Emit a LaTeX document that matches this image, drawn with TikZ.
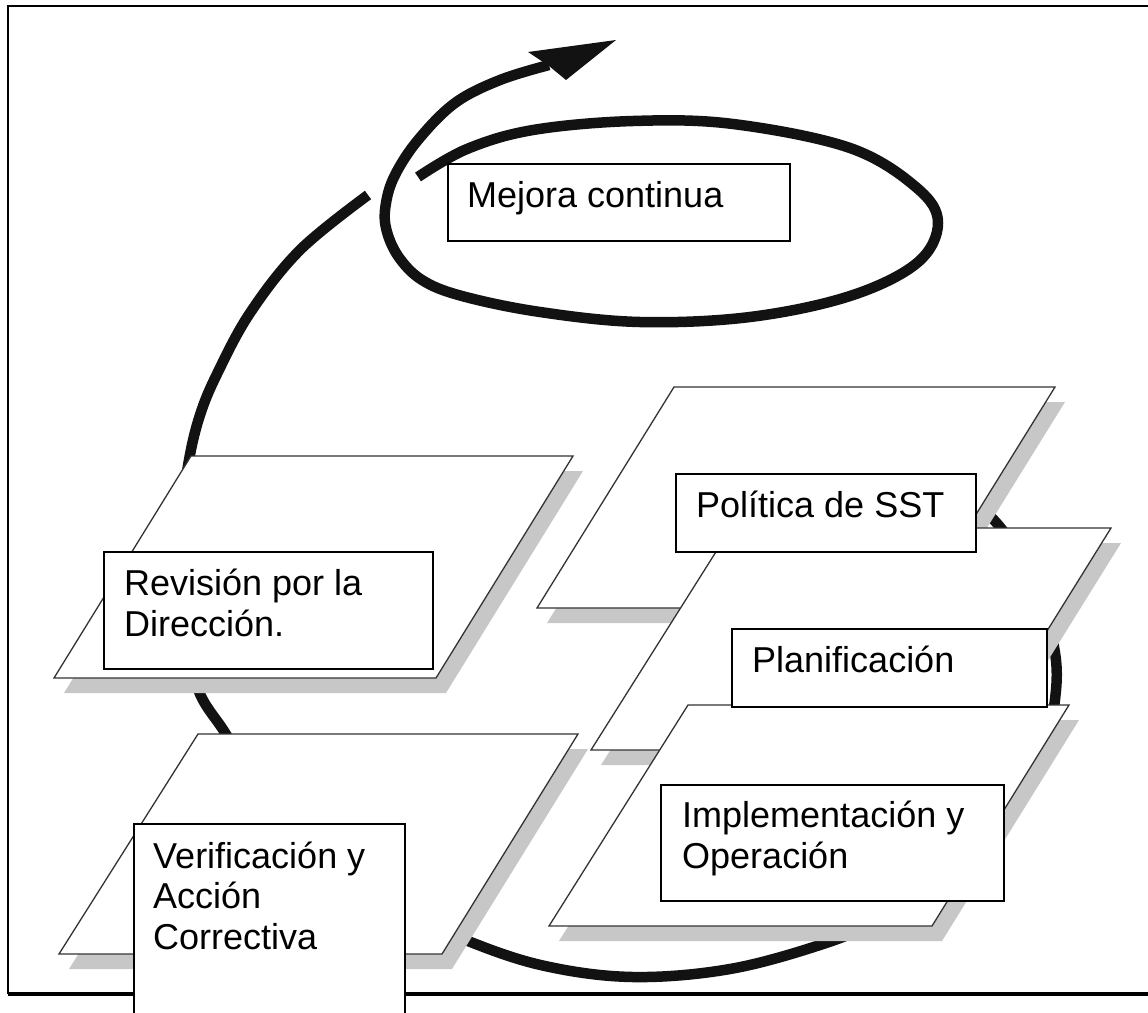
\documentclass[tikz,border=0pt]{standalone}
\usepackage{fontspec}
\setmainfont{Liberation Sans}
\begin{document}
\begin{tikzpicture}[x=1pt,y=-1pt,
  para/.style={fill=white, draw=black!80, line width=1.3pt, line join=miter},
  shade/.style={fill=black!22, draw=none},
  box/.style={draw=black, line width=1.7pt, fill=white, inner sep=0pt, anchor=north west},
  lbl/.style={anchor=base west, align=left, inner sep=0pt, font=\fontsize{36}{40.5}\selectfont},
  loopline/.style={line width=10.5pt, draw=black!93}
]
\useasboundingbox (0,0) rectangle (1148,1012);
% frame
\draw[line width=2.2pt] (1152,6) -- (8,6) -- (8,994);
\draw[line width=3.5pt] (8,994) -- (1152,994);

% big loop
\draw[loopline] plot[smooth, tension=0.6] coordinates {(905,447) (958,488) (1000,527) (1033,580) (1052,637) (1056,690) (1040,765) (1000,830) (940,885) (880,920) (823,944) (730,969) (633,977) (545,966) (468,941) (390,905) (310,850) (255,790) (227,736) (200,694) (185,640) (179,580) (181,520) (189,460) (200,415) (217,374) (250,313) (300,250) (368,195)};

% small loop and arrow
\draw[loopline] plot[smooth, tension=0.6] coordinates {(418,177) (467,149) (533,130) (633,121) (733,124) (850,148) (917,188) (938,223) (917,263) (850,296) (750,317) (640,322) (540,312) (462,296) (422,280) (398,256) (386,228) (386,203) (395,175) (418,140) (455,103) (500,80) (549,65)};
\fill[black!93] (616,40) -- (528,52) -- (549,66) -- (566,80) -- cycle;

% Revision
\fill[shade] ([shift={(10,15)}]191,456) -- ([shift={(10,15)}]573,456) -- ([shift={(10,15)}]436,678) -- ([shift={(10,15)}]54,678) -- cycle;
\filldraw[para] (191,456) -- (573,456) -- (436,678) -- (54,678) -- cycle;
\node[box, minimum width=329, minimum height=117] (rev) at (103,551) {};
\node[lbl] (revT) at (124,636) {Revisión por la\\Dirección.};

% Verificacion
\fill[shade] ([shift={(10,15)}]198,734) -- ([shift={(10,15)}]578,734) -- ([shift={(10,15)}]442,954) -- ([shift={(10,15)}]59,954) -- cycle;
\filldraw[para] (198,734) -- (578,734) -- (442,954) -- (59,954) -- cycle;
\node[box, minimum width=271, minimum height=230] (ver) at (133,823) {};
\node[lbl] (verT) at (153,949) {Verificación y\\Acción\\Correctiva};

% Politica
\fill[shade] ([shift={(10,15)}]674,387) -- ([shift={(10,15)}]1055,387) -- ([shift={(10,15)}]918,608) -- ([shift={(10,15)}]537,608) -- cycle;
\filldraw[para] (674,387) -- (1055,387) -- (918,608) -- (537,608) -- cycle;

% Planificacion parallelogram
\fill[shade] ([shift={(10,15)}]731,528) -- ([shift={(10,15)}]1111,528) -- ([shift={(10,15)}]973,750) -- ([shift={(10,15)}]591,750) -- cycle;
\filldraw[para] (731,528) -- (1111,528) -- (973,750) -- (591,750) -- cycle;

\node[box, minimum width=300, minimum height=78] (pol) at (675,473) {};
\node[lbl] (polT) at (696,517) {Política de SST};

% Implementacion parallelogram
\fill[shade] ([shift={(10,15)}]688,705) -- ([shift={(10,15)}]1069,705) -- ([shift={(10,15)}]932,926) -- ([shift={(10,15)}]549,926) -- cycle;
\filldraw[para] (688,705) -- (1069,705) -- (932,926) -- (549,926) -- cycle;

\node[box, minimum width=315, minimum height=78] (pla) at (731,628) {};
\node[lbl] (plaT) at (752,672) {Planificación};

\node[box, minimum width=343, minimum height=116] (imp) at (660,784) {};
\node[lbl] (impT) at (682,868) {Implementación y\\Operación};

% Mejora
\node[box, minimum width=342, minimum height=77] (mej) at (447,163) {};
\node[lbl] (mejT) at (467,207) {Mejora continua};
\end{tikzpicture}
\end{document}
